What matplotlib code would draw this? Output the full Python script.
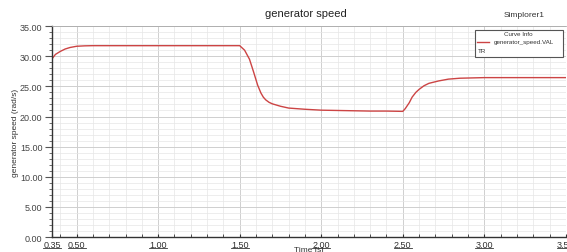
import numpy as np
from matplotlib import pyplot as plt
from matplotlib.patches import Rectangle
from matplotlib.lines import Line2D

plt.rcParams['font.family'] = ['Liberation Sans', 'DejaVu Sans']

# generator speed
time = [0.35, 0.37, 0.40, 0.43, 0.46, 0.50, 0.55, 0.60, 1.00, 1.50,
        1.53, 1.56, 1.585, 1.61, 1.63, 1.645, 1.66, 1.68, 1.70, 1.75,
        1.80, 1.90, 2.00, 2.10, 2.20, 2.30, 2.40, 2.50, 2.515, 2.54,
        2.557, 2.58, 2.60, 2.63, 2.66, 2.72, 2.78, 2.85, 3.00, 3.50]
speed = [29.6, 30.3, 30.8, 31.2, 31.45, 31.65, 31.72, 31.75, 31.75, 31.75,
         31.0, 29.5, 27.4, 25.2, 23.9, 23.2, 22.75, 22.35, 22.1, 21.7,
         21.4, 21.2, 21.05, 21.0, 20.95, 20.9, 20.9, 20.85, 21.3, 22.3,
         23.2, 24.0, 24.5, 25.1, 25.5, 25.9, 26.2, 26.35, 26.45, 26.45]

xtick_vals = [0.35, 0.50, 1.00, 1.50, 2.00, 2.50, 3.00, 3.50]
ytick_vals = [0, 5, 10, 15, 20, 25, 30, 35]

fig = plt.figure(figsize=(5.67, 2.53), dpi=100)
ax = fig.add_axes([0.092, 0.059, 0.906, 0.834])

ax.plot(time, speed, color='#cc4444', lw=1.0)

ax.set_xlim(0.35, 3.5)
ax.set_ylim(0, 35)
ax.set_xticks(xtick_vals)
ax.set_xticklabels(['%.2f' % v for v in xtick_vals], fontsize=6.5, color='#333333')
ax.set_yticks(ytick_vals)
ax.set_yticklabels(['%.2f' % v for v in ytick_vals], fontsize=6.5, color='#444444')
ax.set_xticks(np.arange(0.4, 3.5, 0.1), minor=True)
ax.set_yticks(np.arange(0, 35, 1), minor=True)

# underline the x tick labels
for v in xtick_vals:
    ax.add_line(Line2D([v - 0.055, v + 0.055], [-0.05, -0.05],
                       transform=ax.get_xaxis_transform(), color='#333333',
                       lw=0.6, clip_on=False))

ax.grid(which='major', color='#cfcfcf', lw=0.7)
ax.grid(which='minor', color='#e6e6e6', lw=0.5)
ax.tick_params(axis='x', which='both', direction='in', length=2, pad=2, color='#333333')
ax.tick_params(axis='y', which='major', length=5, pad=2, color='#555555')
ax.tick_params(axis='y', which='minor', length=2.5, color='#555555')

for s in ['left', 'bottom']:
    ax.spines[s].set_color('#333333')
    ax.spines[s].set_linewidth(1.0)
ax.spines['top'].set_color('#aaaaaa')
ax.spines['top'].set_linewidth(0.6)
ax.spines['right'].set_visible(False)

ax.set_ylabel('generator speed (rad/s)', fontsize=6, color='#333333', labelpad=1)
ax.set_xlabel('Time [s]', fontsize=6, color='#333333', labelpad=-2)

fig.text(0.54, 0.925, 'generator speed', fontsize=8, ha='center', va='bottom', color='#222222')
fig.text(0.96, 0.925, 'Simplorer1', fontsize=6, ha='right', va='bottom', color='#333333')

# legend box
box = Rectangle((0.838, 0.77), 0.155, 0.108, transform=fig.transFigure,
                facecolor='white', edgecolor='#555555', lw=0.8, zorder=5)
fig.patches.append(box)
fig.text(0.915, 0.862, 'Curve Info', fontsize=4.5, ha='center', va='center', color='#333333', zorder=6)
fig.lines.append(Line2D([0.842, 0.862], [0.832, 0.832], transform=fig.transFigure,
                        color='#cc4444', lw=1.0, zorder=6))
fig.text(0.87, 0.832, 'generator_speed.VAL', fontsize=4.5, ha='left', va='center', color='#333333', zorder=6)
fig.text(0.842, 0.795, 'TR', fontsize=4.5, ha='left', va='center', color='#333333', zorder=6)

fig.savefig('out.png', dpi=100)
